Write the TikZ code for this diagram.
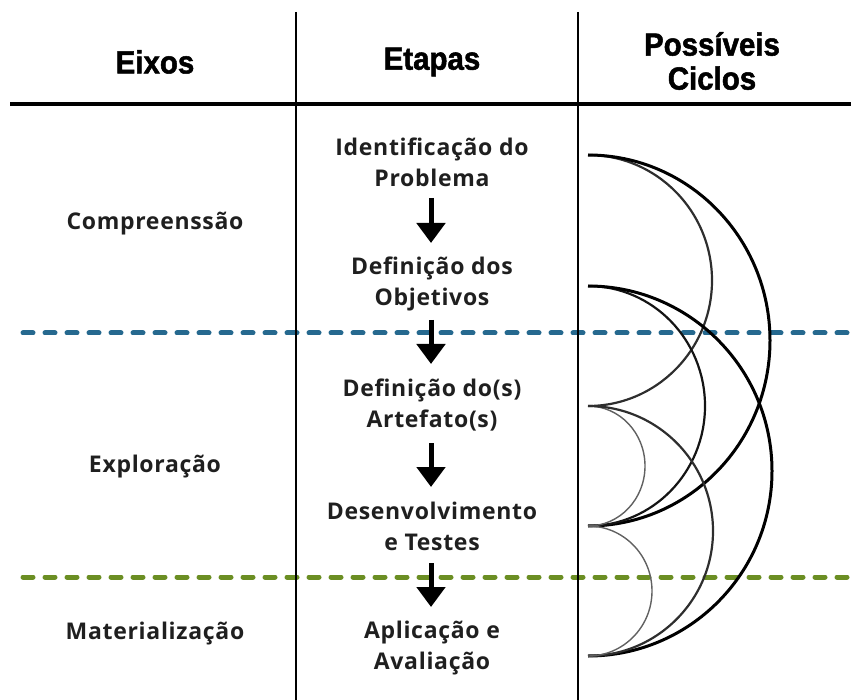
\documentclass[tikz,border=0pt]{standalone}
\usepackage{fontspec}
\setmainfont{Open Sans}
\newfontfamily\headfont[FakeStretch=0.92,FakeBold=1.6]{Liberation Sans Bold}
\newfontfamily\bodyfont[LetterSpace=3]{Open Sans Bold}
\usetikzlibrary{arrows.meta}
\definecolor{dashblue}{HTML}{26698F}
\definecolor{dashgreen}{HTML}{6B8E23}
\begin{document}
\begin{tikzpicture}[x=1pt,y=-1pt,
  head/.style={font=\headfont\fontsize{32}{34}\selectfont, align=center, inner sep=0pt},
  txt/.style={font=\bodyfont\fontsize{23}{31}\selectfont, align=center, inner sep=0pt, text=black!88},
  flow/.style={line width=5pt, -{Triangle[width=28pt,length=20pt]}},
  rulev/.style={line width=2.5pt},
  ruleh/.style={line width=4pt},
  sep/.style={line width=5pt, line cap=round, dash pattern=on 10pt off 12pt},
  cycthick/.style={line width=3pt, black},
  cycmid/.style={line width=2.2pt, black!82},
  cycthin/.style={line width=1.4pt, black!62}
]
\useasboundingbox (0,0) rectangle (851,700);

% separators
\coordinate (b0) at (23,333);
\coordinate (b1) at (851,333);
\coordinate (g0) at (23,577);
\coordinate (g1) at (851,577);
\draw[sep, dashblue] (b0) -- (b1);
\draw[sep, dashgreen] (g0) -- (g1);

% table rules
\coordinate (v1t) at (296,12);
\coordinate (v1b) at (296,700);
\coordinate (v2t) at (578,12);
\coordinate (v2b) at (578,700);
\coordinate (h0) at (10,104);
\coordinate (h1) at (851,104);
\draw[rulev] (v1t) -- (v1b);
\draw[rulev] (v2t) -- (v2b);
\draw[ruleh] (h0) -- (h1);

% headers
\node[head] (hEixos) at (155,62) {Eixos};
\node[head] (hEtapas) at (432,62) {Etapas};
\node[head] (hCiclos) at (712,61) {Possíveis\\Ciclos};

% axes
\node[txt] (ax1) at (155,224) {Compreenssão};
\node[txt] (ax2) at (155,467) {Exploração};
\node[txt] (ax3) at (155,634) {Materialização};

% steps
\node[txt] (s1) at (432,162) {Identificação do\\Problema};
\node[txt] (s2) at (432,284) {Definição dos\\Objetivos};
\node[txt] (s3) at (432,405) {Definição do(s)\\Artefato(s)};
\node[txt] (s4) at (432,526) {Desenvolvimento\\e Testes};
\node[txt] (s5) at (432,648) {Aplicação e\\Avaliação};

\coordinate (a1s) at (431,198); \coordinate (a1e) at (431,243);
\coordinate (a2s) at (431,320); \coordinate (a2e) at (431,364);
\coordinate (a3s) at (431,443); \coordinate (a3e) at (431,487);
\coordinate (a4s) at (431,563); \coordinate (a4e) at (431,607);
\draw[flow] (a1s) -- (a1e);
\draw[flow] (a2s) -- (a2e);
\draw[flow] (a3s) -- (a3e);
\draw[flow] (a4s) -- (a4e);

% cycles
\coordinate (p1) at (588,155);
\coordinate (p2) at (588,286);
\coordinate (p3) at (588,406);
\coordinate (p4) at (588,526);
\coordinate (p5) at (588,656);
\draw[cycmid] (p1) arc[start angle=90,end angle=-90,x radius=124pt,y radius=125.5pt];
\draw[cycthick] (p1) arc[start angle=90,end angle=-90,x radius=182pt,y radius=185.5pt];
\draw[cycmid, black!92] (p2) arc[start angle=90,end angle=-90,x radius=117pt,y radius=120pt];
\draw[cycthick] (p2) arc[start angle=90,end angle=-90,x radius=184pt,y radius=185pt];
\draw[cycthin] (p3) arc[start angle=90,end angle=-90,x radius=57pt,y radius=60pt];
\draw[cycmid] (p3) arc[start angle=90,end angle=-90,x radius=125pt,y radius=125pt];
\draw[cycthin] (p4) arc[start angle=90,end angle=-90,x radius=64pt,y radius=65pt];
\end{tikzpicture}
\end{document}
